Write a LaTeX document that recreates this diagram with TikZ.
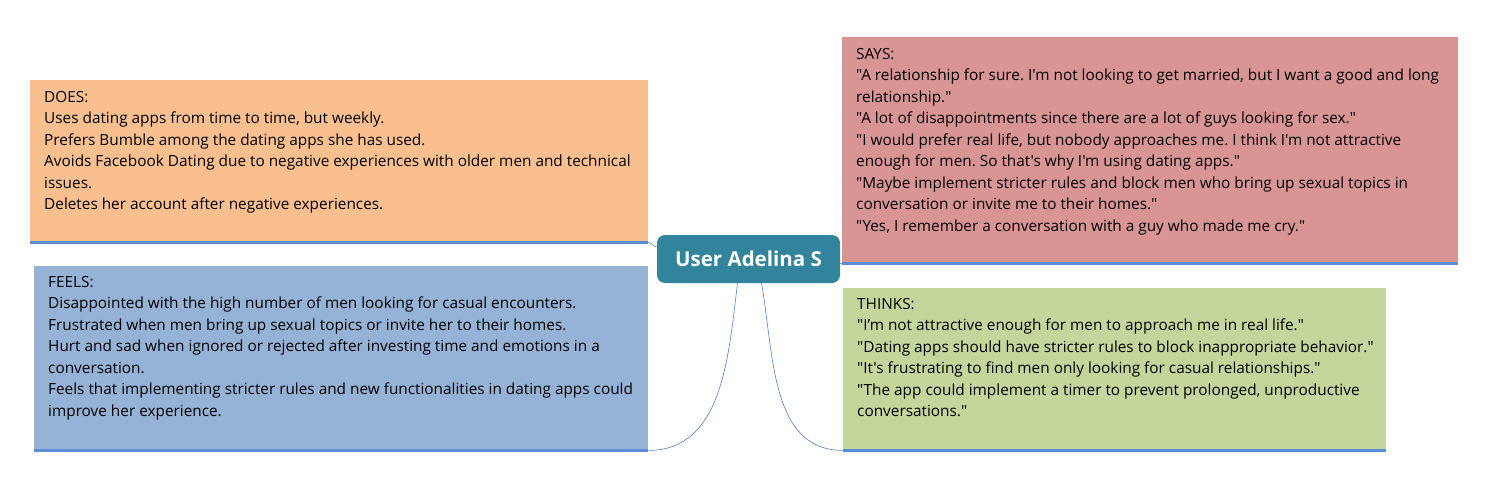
\documentclass[tikz,border=0pt]{standalone}
\usepackage{fontspec}
\setmainfont{Open Sans}[Ligatures=TeXOff]
\usetikzlibrary{calc}

\definecolor{doesc}{HTML}{F9BF8F}
\definecolor{saysc}{HTML}{D99594}
\definecolor{feelsc}{HTML}{95B3D7}
\definecolor{thinksc}{HTML}{C3D69B}
\definecolor{userc}{HTML}{31849B}
\definecolor{linec}{HTML}{5B8ED6}
\definecolor{linkc}{HTML}{4F81BD}

\tikzset{
  box/.style={rectangle, inner sep=0pt, anchor=north west},
  txt/.style={inner sep=0pt, anchor=north west, align=left, font=\fontsize{15.35}{21.5}\selectfont},
  bottomline/.style={draw=linec, line width=3pt},
  link/.style={draw=linkc, line width=0.6pt}
}

\begin{document}
\frenchspacing
\begin{tikzpicture}[x=1pt,y=1pt]
\useasboundingbox (0,0) rectangle (1494,491);

\node [box, fill=doesc, minimum width=618pt, minimum height=162pt] (does) at (30,411) {};
\node [box, fill=saysc, minimum width=616pt, minimum height=226pt] (says) at (842,454) {};
\node [box, fill=feelsc, minimum width=614pt, minimum height=184pt] (feels) at (34,225) {};
\node [box, fill=thinksc, minimum width=543pt, minimum height=162pt] (thinks) at (843,203) {};

\draw [bottomline] (does.south west) -- (does.south east);
\draw [bottomline] (says.south west) -- (says.south east);
\draw [bottomline] (feels.south west) -- (feels.south east);
\draw [bottomline] (thinks.south west) -- (thinks.south east);

\node [txt] (doestext) at (44,400) {DOES:\\
Uses dating apps from time to time, but weekly.\\
Prefers Bumble among the dating apps she has used.\\
Avoids Facebook Dating due to negative experiences with older men and technical\\
issues.\\
Deletes her account after negative experiences.};

\node [txt] (saystext) at (856,443) {SAYS:\\
"A relationship for sure. I'm not looking to get married, but I want a good and long\\
relationship."\\
"A lot of disappointments since there are a lot of guys looking for sex."\\
"I would prefer real life, but nobody approaches me. I think I'm not attractive\\
enough for men. So that's why I'm using dating apps."\\
"Maybe implement stricter rules and block men who bring up sexual topics in\\
conversation or invite me to their homes."\\
"Yes, I remember a conversation with a guy who made me cry."};

\node [txt] (feelstext) at (48,215) {FEELS:\\
Disappointed with the high number of men looking for casual encounters.\\
Frustrated when men bring up sexual topics or invite her to their homes.\\
Hurt and sad when ignored or rejected after investing time and emotions in a\\
conversation.\\
Feels that implementing stricter rules and new functionalities in dating apps could\\
improve her experience.};

\node [txt] (thinkstext) at (857,193) {THINKS:\\
"I’m not attractive enough for men to approach me in real life."\\
"Dating apps should have stricter rules to block inappropriate behavior."\\
"It's frustrating to find men only looking for casual relationships."\\
"The app could implement a timer to prevent prolonged, unproductive\\
conversations."};

\node [rectangle, rounded corners=8pt, fill=userc, minimum width=183pt, minimum height=48pt,
  text=white, font=\fontsize{20.5}{24}\selectfont\bfseries] (user) at (748.5,232) {User Adelina S};

\coordinate (u1) at ($(user.north west)+(0,-12)$);
\coordinate (u2) at ($(user.south east)+(0,20)$);
\coordinate (u3) at ($(user.south)+(-11,0)$);
\coordinate (u4) at ($(user.south)+(13,0)$);

\draw [link] (does.south east) to[out=0,in=180] (u1);
\draw [link] (u2) to[out=0,in=180] (says.south west);
\draw [link] (u3) to[out=-97,in=0] (feels.south east);
\draw [link] (u4) to[out=-80,in=180] (thinks.south west);
\end{tikzpicture}
\end{document}
